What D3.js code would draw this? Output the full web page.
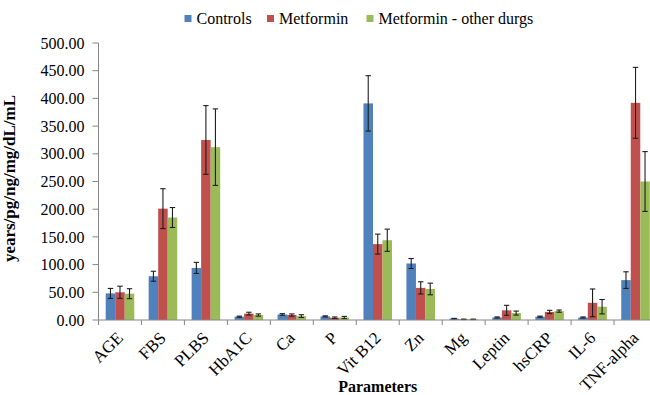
<!DOCTYPE html>
<html><head><meta charset="utf-8">
<script src="https://cdn.jsdelivr.net/npm/d3@7"></script>
<style>body{margin:0;background:#fff}svg{display:block}</style>
</head><body><svg id="c" width="650" height="395" font-family="'Liberation Serif', 'Times New Roman', Times, 'DejaVu Serif', serif"></svg>
<script>
const categories = ["AGE","FBS","PLBS","HbA1C","Ca","P","Vit B12","Zn","Mg","Leptin","hsCRP","IL-6","TNF-alpha"];
const seriesNames = ["Controls","Metformin","Metformin - other durgs"];
const controls    = [48, 79, 94, 6, 10, 6.5, 391, 102, 2.4, 4.6, 6, 4.5, 72];
const controlsErr = [9, 9, 10, 1, 1.5, 1, 50, 9, 0.5, 1, 1, 1, 15];
const metformin    = [50, 201, 325, 11.5, 9, 4, 137, 58, 1.2, 17.5, 14.5, 31, 392];
const metforminErr = [11, 36, 62, 2.5, 2, 1.5, 18, 11, 0.4, 9, 3, 25, 64];
const other    = [47.5, 185, 312, 9, 7, 4.5, 144, 56, 1.2, 12.5, 16, 24, 250];
const otherErr = [9, 18, 69, 2, 2.5, 2, 20, 10.5, 0.4, 3.6, 2, 13, 54];
const yTicks = [0,50,100,150,200,250,300,350,400,450,500];
const colors = ["#4F81BD","#C0504D","#9BBB59"];

const values = [controls, metformin, other];
const errors = [controlsErr, metforminErr, otherErr];

const svg = d3.select("#c");
const L = 98.5, R = 657, T = 43, B = 320;
const x = d3.scaleBand().domain(categories).range([L, R]);
const xs = d3.scaleBand().domain(seriesNames).range([0, x.bandwidth()*0.665]);
const off = (x.bandwidth() - xs.range()[1]) / 2;
const y = d3.scaleLinear().domain([0, 500]).range([B, T]);
const axisCol = "#868686";

// bars
const g = svg.append("g");
seriesNames.forEach((s, si) => {
  g.selectAll(null).data(categories).enter().append("rect")
    .attr("x", c => x(c) + off + xs(s))
    .attr("width", xs.bandwidth())
    .attr("y", (c, i) => y(values[si][i]))
    .attr("height", (c, i) => B - y(values[si][i]))
    .attr("fill", colors[si]);
});
// error bars
seriesNames.forEach((s, si) => {
  categories.forEach((c, i) => {
    const cx = x(c) + off + xs(s) + xs.bandwidth()/2;
    const v = values[si][i], e = errors[si][i];
    const y1 = y(v + e), y2 = y(Math.max(0, v - e));
    const eg = svg.append("g").attr("stroke", "#1e1e1e").attr("stroke-width", 1.1);
    eg.append("line").attr("x1", cx).attr("x2", cx).attr("y1", y1).attr("y2", y2);
    eg.append("line").attr("x1", cx-2.7).attr("x2", cx+2.7).attr("y1", y1).attr("y2", y1);
    eg.append("line").attr("x1", cx-2.7).attr("x2", cx+2.7).attr("y1", y2).attr("y2", y2);
  });
});

// y axis
svg.append("line").attr("x1", L).attr("x2", L).attr("y1", T).attr("y2", B).attr("stroke", axisCol);
yTicks.forEach(t => {
  svg.append("line").attr("x1", L-6).attr("x2", L).attr("y1", y(t)).attr("y2", y(t)).attr("stroke", axisCol);
  svg.append("text").attr("x", 84.5).attr("y", y(t)).attr("dy", "0.35em").attr("text-anchor", "end")
    .attr("font-size", 16).attr("fill", "#000").text(t.toFixed(2));
});
// x axis
svg.append("line").attr("x1", L).attr("x2", R).attr("y1", B).attr("y2", B).attr("stroke", axisCol);
categories.forEach(c => {
  svg.append("line").attr("x1", x(c)).attr("x2", x(c)).attr("y1", B).attr("y2", B+5).attr("stroke", axisCol);
  const cx = x(c) + x.bandwidth()/2 + 4;
  svg.append("text").attr("transform", `translate(${cx},${B+19}) rotate(-45)`)
    .attr("text-anchor", "end").attr("font-size", 17).attr("fill", "#000").text(c);
});
svg.append("line").attr("x1", R).attr("x2", R).attr("y1", B).attr("y2", B+5).attr("stroke", axisCol);

// titles
svg.append("text").attr("x", (L+R)/2).attr("y", 392).attr("text-anchor", "middle")
  .attr("font-size", 16).attr("font-weight", "bold").text("Parameters");
svg.append("text").attr("transform", `translate(15,${(T+B)/2 - 3}) rotate(-90)`).attr("text-anchor", "middle")
  .attr("font-size", 17).attr("font-weight", "bold").text("years/pg/ng/mg/dL/mL");

// legend
const legX = [184.5, 267, 366.5];
seriesNames.forEach((s, si) => {
  svg.append("rect").attr("x", legX[si]).attr("y", 15).attr("width", 7).attr("height", 7).attr("fill", colors[si]);
  svg.append("text").attr("x", legX[si] + 12).attr("y", 24).attr("font-size", 16).text(s);
});
</script></body></html>
